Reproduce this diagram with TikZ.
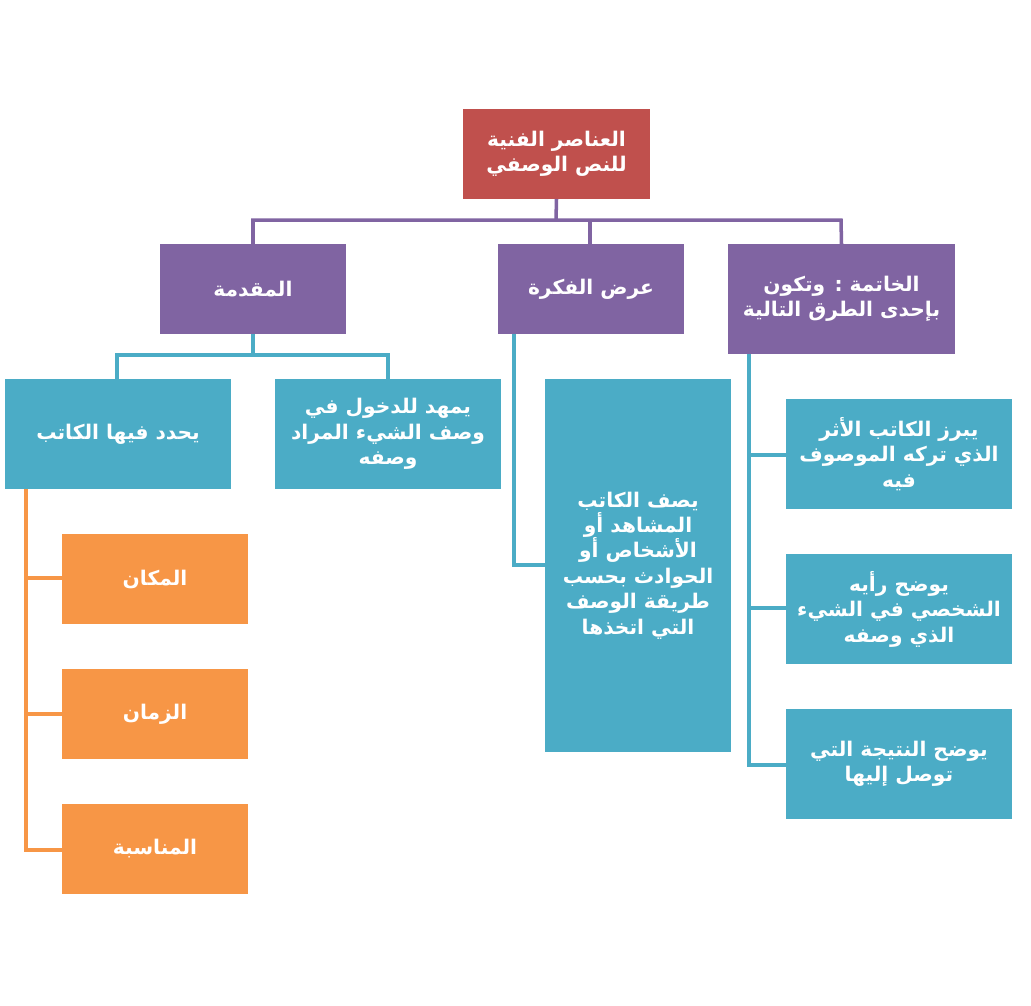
\documentclass[tikz,border=0pt]{standalone}
\usepackage{fontspec}
\TeXXeTstate=1
\newfontfamily\arabicfont[Script=Arabic]{DejaVu Sans}
\newcommand{\ar}[1]{\beginR #1\endR}
\definecolor{rootred}{HTML}{C0504D}
\definecolor{purp}{HTML}{8064A2}
\definecolor{blu}{HTML}{4BACC6}
\definecolor{orng}{HTML}{F79646}
\begin{document}
\begin{tikzpicture}[x=0.02cm,y=-0.02cm,
  box/.style={anchor=north west,inner sep=0pt,outer sep=0pt,text=white,align=center,
    font=\arabicfont\bfseries\fontsize{11.5}{14.5}\selectfont},
  rootbox/.style={box,fill=rootred},
  pbox/.style={box,fill=purp},
  bbox/.style={box,fill=blu},
  obox/.style={box,fill=orng},
  plink/.style={draw=purp,line width=2pt},
  blink/.style={draw=blu,line width=2pt},
  olink/.style={draw=orng,line width=2pt}]
\useasboundingbox (0,0) rectangle (1031,1005);
\fill[white] (0,0) rectangle (1031,1005);
% nodes
\node[rootbox,minimum width=187*0.02cm,minimum height=90*0.02cm] (root) at (463,109) {\ar{العناصر الفنية}\\\ar{للنص الوصفي}};
\node[pbox,minimum width=186*0.02cm,minimum height=90*0.02cm] (p1) at (160,244) {\ar{المقدمة}};
\node[pbox,minimum width=186*0.02cm,minimum height=90*0.02cm] (p2) at (498,244) {\ar{عرض الفكرة}};
\node[pbox,minimum width=227*0.02cm,minimum height=110*0.02cm] (p3) at (728,244) {\ar{الخاتمة : وتكون}\\\ar{بإحدى الطرق التالية}};
\node[bbox,minimum width=226*0.02cm,minimum height=110*0.02cm] (b1) at (5,379) {\ar{يحدد فيها الكاتب}};
\node[bbox,minimum width=226*0.02cm,minimum height=110*0.02cm] (b2) at (275,379) {\ar{يمهد للدخول في}\\\ar{وصف الشيء المراد}\\\ar{وصفه}};
\node[bbox,minimum width=186*0.02cm,minimum height=373*0.02cm] (b3) at (545,379) {\ar{يصف الكاتب}\\\ar{المشاهد أو}\\\ar{الأشخاص أو}\\\ar{الحوادث بحسب}\\\ar{طريقة الوصف}\\\ar{التي اتخذها}};
\node[bbox,minimum width=226*0.02cm,minimum height=110*0.02cm] (r1) at (786,399) {\ar{يبرز الكاتب الأثر}\\\ar{الذي تركه الموصوف}\\\ar{فيه}};
\node[bbox,minimum width=226*0.02cm,minimum height=110*0.02cm] (r2) at (786,554) {\ar{يوضح رأيه}\\\ar{الشخصي في الشيء}\\\ar{الذي وصفه}};
\node[bbox,minimum width=226*0.02cm,minimum height=110*0.02cm] (r3) at (786,709) {\ar{يوضح النتيجة التي}\\\ar{توصل إليها}};
\node[obox,minimum width=186*0.02cm,minimum height=90*0.02cm] (o1) at (62,534) {\ar{المكان}};
\node[obox,minimum width=186*0.02cm,minimum height=90*0.02cm] (o2) at (62,669) {\ar{الزمان}};
\node[obox,minimum width=186*0.02cm,minimum height=90*0.02cm] (o3) at (62,804) {\ar{المناسبة}};
% connectors
\coordinate (tj) at (556,220);
\draw[plink] (root.south) -- (tj);
\draw[plink] (p1.north) -- (253,220) -- (841,220) -- (p3.north);
\draw[plink] (590,220) -- (590,244);
\draw[blink] (p1.south) -- (253,355);
\draw[blink] (117,379) -- (117,355) -- (388,355) -- (388,379);
\draw[blink] (514,334) -- (514,565) -- (b3.west|-0,565);
\draw[blink] (749,354) -- (749,765) -- (r3.west|-0,765);
\draw[blink] (749,455) -- (r1.west|-0,455);
\draw[blink] (749,608) -- (r2.west|-0,608);
\draw[olink] (26,489) -- (26,850) -- (o3.west|-0,850);
\draw[olink] (26,578) -- (o1.west|-0,578);
\draw[olink] (26,714) -- (o2.west|-0,714);
\end{tikzpicture}
\end{document}
